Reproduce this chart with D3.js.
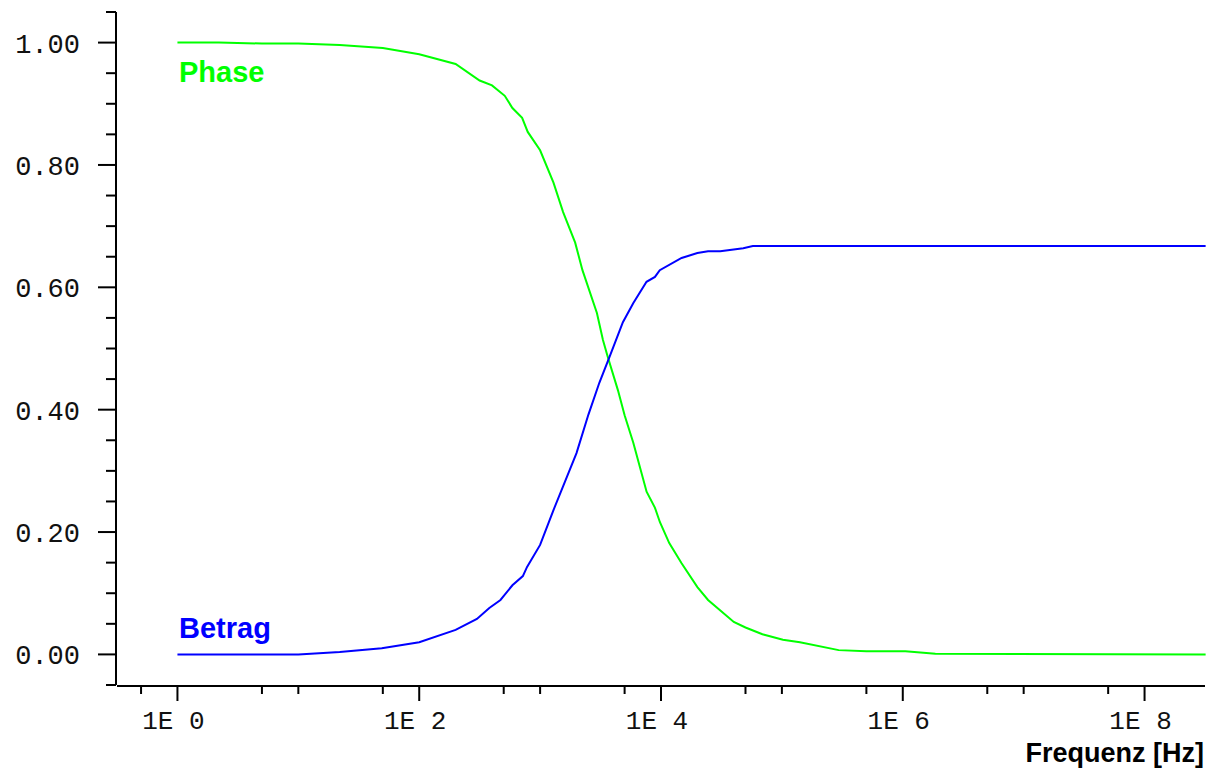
<!DOCTYPE html>
<html>
<head>
<meta charset="utf-8">
<script src="https://cdn.jsdelivr.net/npm/d3@7"></script>
<style>
  html, body { margin: 0; padding: 0; background: #ffffff; }
  svg { display: block; }
</style>
</head>
<body>
<svg id="chart" width="1212" height="769"></svg>
<script>
// ---- data ----
const phaseFreq = [1, 2.2, 5, 10, 22, 50, 100, 200, 316, 400, 510, 590, 710, 790, 1000, 1290, 1550, 1950, 2240, 2950, 3310, 3630, 4400, 5000, 5900, 7600, 8900, 9800, 11700, 14800, 20000, 24500, 40000, 50000, 69000, 102000, 141000, 295000, 500000, 1050000, 1860000, 3.2e8];
const phaseValues = [1.000, 1.000, 0.9985, 0.9985, 0.996, 0.991, 0.981, 0.965, 0.938, 0.930, 0.913, 0.893, 0.877, 0.854, 0.824, 0.771, 0.723, 0.673, 0.628, 0.558, 0.514, 0.486, 0.432, 0.391, 0.346, 0.266, 0.240, 0.216, 0.182, 0.149, 0.110, 0.089, 0.053, 0.044, 0.033, 0.024, 0.020, 0.007, 0.005, 0.005, 0.001, 0.000];

const betragFreq = [1, 10, 22, 49, 100, 200, 300, 380, 470, 590, 720, 780, 1000, 1290, 2000, 2510, 3090, 3800, 4840, 5890, 7590, 8910, 9770, 14800, 20000, 24500, 30900, 47900, 57500, 3.2e8];
const betragValues = [0, 0, 0.004, 0.010, 0.020, 0.040, 0.058, 0.076, 0.089, 0.113, 0.128, 0.143, 0.179, 0.236, 0.329, 0.392, 0.444, 0.489, 0.543, 0.574, 0.609, 0.617, 0.628, 0.648, 0.656, 0.659, 0.659, 0.664, 0.6675, 0.6675];

const seriesNames = ["Phase", "Betrag"];
const yMajorTicks = [0, 0.2, 0.4, 0.6, 0.8, 1.0];
const yTickLabels = ["0.00", "0.20", "0.40", "0.60", "0.80", "1.00"];
const yMinorTicks = [-0.05, 0.05, 0.1, 0.15, 0.25, 0.3, 0.35, 0.45, 0.5, 0.55, 0.65, 0.7, 0.75, 0.85, 0.9, 0.95, 1.05];
const xMajorTicks = [1, 1e2, 1e4, 1e6, 1e8];
const xTickLabels = ["1E 0", "1E 2", "1E 4", "1E 6", "1E 8"];
const xMinorTicks = [0.5, 5, 10, 50, 500, 1e3, 5e3, 5e4, 1e5, 5e5, 5e6, 1e7, 5e7];
const xAxisTitle = "Frequenz [Hz]";

// ---- layout ----
const svg = d3.select("#chart");
const x = d3.scaleLog().domain([Math.pow(10, -0.5), Math.pow(10, 8.5)]).range([117, 1205]);
const y = d3.scaleLinear().domain([-0.05, 1.05]).range([685, 12]);

const green = "#00ff00", blue = "#0000ff";

// axes lines
svg.append("line").attr("x1", 116).attr("x2", 116).attr("y1", y(1.05)).attr("y2", y(-0.05))
  .attr("stroke", "#000").attr("stroke-width", 2);
svg.append("line").attr("x1", 117).attr("x2", 1205).attr("y1", 686).attr("y2", 686)
  .attr("stroke", "#000").attr("stroke-width", 2);

// y ticks
svg.selectAll(".ymaj").data(yMajorTicks).enter().append("line")
  .attr("x1", 98).attr("x2", 116).attr("y1", d => y(d)).attr("y2", d => y(d))
  .attr("stroke", "#000").attr("stroke-width", 2);
svg.selectAll(".ymin").data(yMinorTicks).enter().append("line")
  .attr("x1", 106).attr("x2", 116).attr("y1", d => y(d)).attr("y2", d => y(d))
  .attr("stroke", "#000").attr("stroke-width", 2);
svg.selectAll(".ylab").data(yMajorTicks).enter().append("text")
  .attr("x", 80).attr("y", d => y(d) + 10)
  .attr("text-anchor", "end")
  .attr("font-family", "Liberation Mono, DejaVu Sans Mono, monospace")
  .attr("font-size", 27).attr("fill", "#111")
  .text((d, i) => yTickLabels[i]);

// x ticks
svg.selectAll(".xmaj").data(xMajorTicks).enter().append("line")
  .attr("x1", d => x(d)).attr("x2", d => x(d)).attr("y1", 686).attr("y2", 701)
  .attr("stroke", "#000").attr("stroke-width", 2);
svg.selectAll(".xmin").data(xMinorTicks).enter().append("line")
  .attr("x1", d => x(d)).attr("x2", d => x(d)).attr("y1", 686).attr("y2", 694)
  .attr("stroke", "#000").attr("stroke-width", 2);
svg.selectAll(".xlab").data(xMajorTicks).enter().append("text")
  .attr("x", d => x(d) - 4).attr("y", 729)
  .attr("text-anchor", "middle")
  .attr("font-family", "Liberation Mono, DejaVu Sans Mono, monospace")
  .attr("font-size", 26).attr("fill", "#111")
  .attr("xml:space", "preserve")
  .text((d, i) => xTickLabels[i]);

svg.append("text").attr("x", 1204).attr("y", 762).attr("text-anchor", "end")
  .attr("font-family", "Liberation Sans, Arial, sans-serif").attr("font-weight", "bold")
  .attr("font-size", 27).attr("fill", "#000").text(xAxisTitle);

// lines
const line = d3.line().x(d => x(d[0])).y(d => y(d[1]));
svg.append("path").datum(d3.zip(phaseFreq, phaseValues)).attr("d", line)
  .attr("fill", "none").attr("stroke", green).attr("stroke-width", 2);
svg.append("path").datum(d3.zip(betragFreq, betragValues)).attr("d", line)
  .attr("fill", "none").attr("stroke", blue).attr("stroke-width", 2);

// series labels
svg.append("text").attr("x", 179).attr("y", 82)
  .attr("font-family", "Liberation Sans, Arial, sans-serif").attr("font-weight", "bold")
  .attr("font-size", 29).attr("fill", green).text(seriesNames[0]);
svg.append("text").attr("x", 179).attr("y", 638)
  .attr("font-family", "Liberation Sans, Arial, sans-serif").attr("font-weight", "bold")
  .attr("font-size", 29).attr("fill", blue).text(seriesNames[1]);
</script>
</body>
</html>
